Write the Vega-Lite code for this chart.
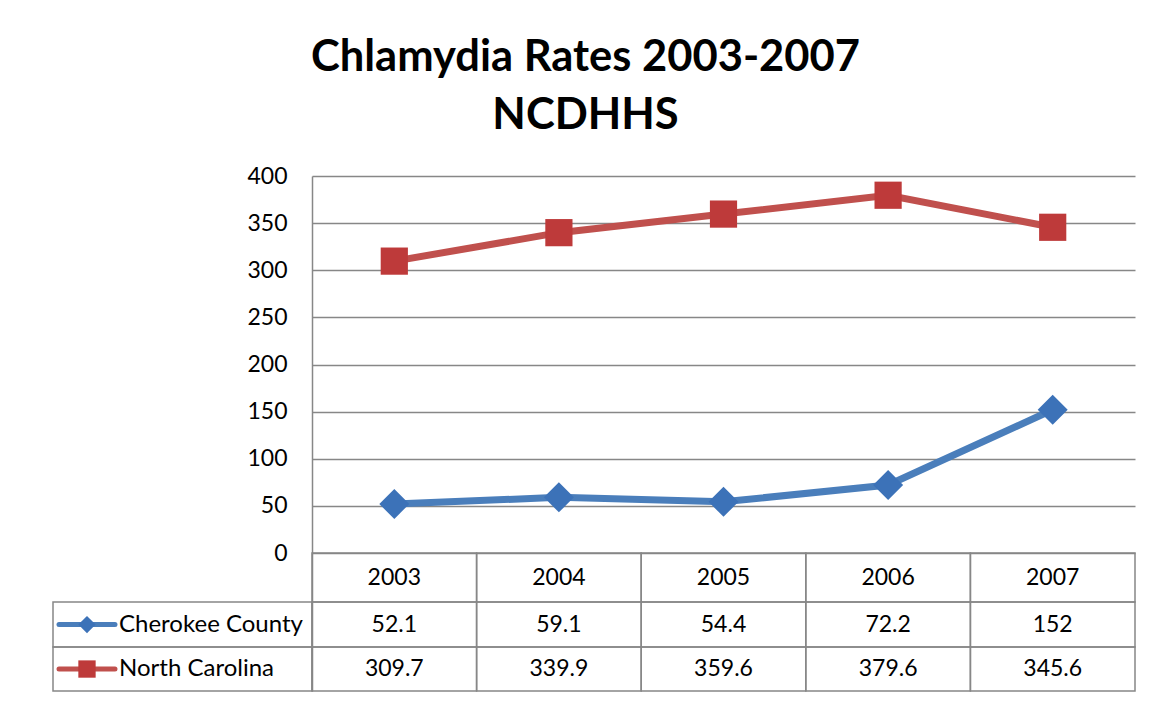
{
  "$schema": "https://vega.github.io/schema/vega-lite/v6.json",
  "width": 823,
  "height": 515,
  "autosize": {"type": "none"},
  "padding": {"left": 312, "top": 176, "right": 20, "bottom": 11},
  "background": "white",
  "config": {
    "view": {"stroke": null},
    "font": "Lato",
    "text": {"font": "Lato", "fontSize": 23, "color": "black"}
  },
  "title": {
    "text": ["Chlamydia Rates 2003-2007", "NCDHHS"],
    "font": "Lato",
    "fontSize": 43.5,
    "fontWeight": "bold",
    "lineHeight": 58,
    "color": "black",
    "anchor": "middle",
    "dx": -138,
    "offset": 27
  },
  "data": {
    "values": [
      {"series": "Cherokee County", "year": 2003, "rate": 52.1},
      {"series": "Cherokee County", "year": 2004, "rate": 59.1},
      {"series": "Cherokee County", "year": 2005, "rate": 54.4},
      {"series": "Cherokee County", "year": 2006, "rate": 72.2},
      {"series": "Cherokee County", "year": 2007, "rate": 152},
      {"series": "North Carolina", "year": 2003, "rate": 309.7},
      {"series": "North Carolina", "year": 2004, "rate": 339.9},
      {"series": "North Carolina", "year": 2005, "rate": 359.6},
      {"series": "North Carolina", "year": 2006, "rate": 379.6},
      {"series": "North Carolina", "year": 2007, "rate": 345.6}
    ]
  },
  "transform": [
    {"calculate": "datum.year - 0.5", "as": "x0"},
    {"calculate": "datum.year + 0.5", "as": "x1"},
    {"calculate": "datum.series == 'Cherokee County' ? -52 : -99.7", "as": "top"},
    {"calculate": "datum.series == 'Cherokee County' ? -99.7 : -146.3", "as": "bot"},
    {"calculate": "(datum.top + datum.bot) / 2", "as": "mid"},
    {"calculate": "0", "as": "htop"},
    {"calculate": "-52", "as": "hbot"},
    {"calculate": "-26", "as": "hmid"},
    {"calculate": "2000.9265", "as": "lx0"},
    {"calculate": "2002.5", "as": "lx1"},
    {"calculate": "2001.3275", "as": "ltext"},
    {"calculate": "2000.963", "as": "gx0"},
    {"calculate": "2001.303", "as": "gx1"},
    {"calculate": "2001.133", "as": "gxm"}
  ],
  "layer": [
    {
      "transform": [{"filter": "datum.series == 'North Carolina'"}],
      "mark": {"type": "rect", "fill": "white", "fillOpacity": 0, "stroke": "#878787", "strokeWidth": 1.5},
      "encoding": {
        "x": {"field": "x0", "type": "quantitative", "axis": null, "scale": {"domain": [2002.5, 2007.5], "nice": false, "zero": false}},
        "x2": {"field": "x1"},
        "y": {"field": "htop", "type": "quantitative", "scale": {"domain": [-146.3, 400], "nice": false, "zero": false}},
        "y2": {"field": "hbot"}
      }
    },
    {
      "transform": [{"filter": "datum.series == 'North Carolina'"}],
      "mark": {"type": "text", "baseline": "middle", "align": "center"},
      "encoding": {
        "x": {"field": "year", "type": "quantitative"},
        "y": {"field": "hmid", "type": "quantitative"},
        "text": {"field": "year", "type": "ordinal"}
      }
    },
    {
      "mark": {"type": "rect", "fill": "white", "fillOpacity": 0, "stroke": "#878787", "strokeWidth": 1.5},
      "encoding": {
        "x": {"field": "x0", "type": "quantitative"},
        "x2": {"field": "x1"},
        "y": {"field": "top", "type": "quantitative"},
        "y2": {"field": "bot"}
      }
    },
    {
      "mark": {"type": "text", "baseline": "middle", "align": "center"},
      "encoding": {
        "x": {"field": "year", "type": "quantitative"},
        "y": {"field": "mid", "type": "quantitative"},
        "text": {"field": "rate", "type": "quantitative", "format": "~g"}
      }
    },
    {
      "transform": [{"filter": "datum.year == 2003"}],
      "mark": {"type": "rect", "fill": "white", "fillOpacity": 0, "stroke": "#878787", "strokeWidth": 1.5},
      "encoding": {
        "x": {"field": "lx0", "type": "quantitative"},
        "x2": {"field": "lx1"},
        "y": {"field": "top", "type": "quantitative"},
        "y2": {"field": "bot"}
      }
    },
    {
      "transform": [{"filter": "datum.year == 2003"}],
      "mark": {"type": "text", "baseline": "middle", "align": "left", "fontSize": 24},
      "encoding": {
        "x": {"field": "ltext", "type": "quantitative"},
        "y": {"field": "mid", "type": "quantitative"},
        "text": {"field": "series", "type": "nominal"}
      }
    },
    {
      "transform": [{"filter": "datum.year == 2003"}],
      "mark": {"type": "rule", "strokeWidth": 5, "strokeCap": "round"},
      "encoding": {
        "x": {"field": "gx0", "type": "quantitative"},
        "x2": {"field": "gx1"},
        "y": {"field": "mid", "type": "quantitative"},
        "color": {"field": "series", "type": "nominal", "legend": null, "scale": {"domain": ["Cherokee County", "North Carolina"], "range": ["#4A7EBB", "#C0504D"]}}
      }
    },
    {
      "transform": [{"filter": "datum.year == 2003"}],
      "mark": {"type": "point", "filled": true, "size": 300, "opacity": 1},
      "encoding": {
        "x": {"field": "gxm", "type": "quantitative"},
        "y": {"field": "mid", "type": "quantitative"},
        "shape": {"field": "series", "type": "nominal", "legend": null, "scale": {"domain": ["Cherokee County", "North Carolina"], "range": ["diamond", "square"]}},
        "fill": {"field": "series", "type": "nominal", "legend": null, "scale": {"domain": ["Cherokee County", "North Carolina"], "range": ["#3C72B8", "#BE3A3A"]}}
      }
    },
    {
      "mark": {"type": "line", "strokeWidth": 7},
      "encoding": {
        "x": {"field": "year", "type": "quantitative"},
        "y": {
          "field": "rate",
          "type": "quantitative",
          "axis": {
            "values": [0, 50, 100, 150, 200, 250, 300, 350, 400],
            "title": null,
            "grid": true,
            "gridColor": "#878787",
            "gridWidth": 1.5,
            "gridOpacity": 1,
            "domain": true,
            "domainColor": "#878787",
            "domainWidth": 1.5,
            "ticks": false,
            "labelPadding": 25,
            "labelFont": "Lato",
            "labelFontSize": 23,
            "labelColor": "black"
          }
        },
        "color": {"field": "series", "type": "nominal", "legend": null}
      }
    },
    {
      "mark": {"type": "point", "filled": true, "opacity": 1},
      "encoding": {
        "x": {"field": "year", "type": "quantitative"},
        "y": {"field": "rate", "type": "quantitative"},
        "shape": {"field": "series", "type": "nominal", "legend": null},
        "fill": {"field": "series", "type": "nominal", "legend": null},
        "size": {"field": "series", "type": "nominal", "legend": null, "scale": {"domain": ["Cherokee County", "North Carolina"], "range": [900, 740]}}
      }
    }
  ]
}
